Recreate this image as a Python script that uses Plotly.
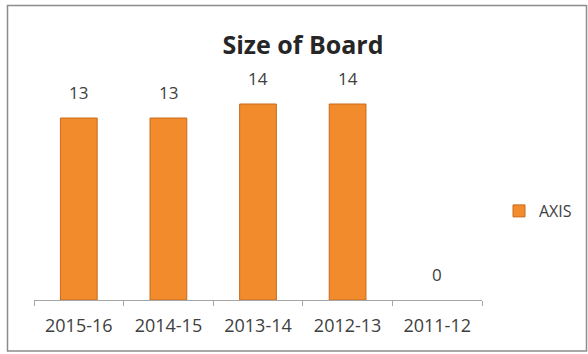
import plotly.graph_objects as go

categories = ["2015-16", "2014-15", "2013-14", "2012-13", "2011-12"]
values = [13, 13, 14, 14, 0]
series_name = "AXIS"
title_text = "Size of Board"

W, H = 588, 354
L, R, T, B = 34, 106, 76, 54
plot_w = W - L - R
plot_h = H - T - B

fig = go.Figure()
fig.add_trace(go.Bar(
    x=categories, y=values, name=series_name,
    marker=dict(color="#F28B2C",
                line=dict(color="#C86A1C", width=[1 if v > 0 else 0 for v in values])),
    width=0.41,
))

for c, v in zip(categories, values):
    fig.add_annotation(x=c, y=v, text=str(v), showarrow=False,
                       yanchor="bottom", yshift=12,
                       font=dict(family="Open Sans", size=17, color="#404040"))


def px_to_paper_x(px):
    return (px - L) / plot_w


def px_to_paper_y(py):
    return (H - B - py) / plot_h


# outer chart border
fig.add_shape(type="rect", xref="paper", yref="paper",
              x0=px_to_paper_x(7.5), x1=px_to_paper_x(586.5),
              y0=px_to_paper_y(351), y1=px_to_paper_y(5.5),
              line=dict(color="#8C8C8C", width=1.5), fillcolor="rgba(0,0,0,0)", layer="below")

fig.update_layout(
    width=W, height=H,
    margin=dict(l=L, r=R, t=T, b=B, autoexpand=False),
    paper_bgcolor="white", plot_bgcolor="white",
    title=dict(text="<b>" + title_text + "</b>", x=303 / W, xanchor="center",
               y=1 - 45 / H, yanchor="middle",
               font=dict(family="Open Sans", size=25, color="#262626")),
    showlegend=True,
    legend=dict(x=px_to_paper_x(499), y=px_to_paper_y(211), xanchor="left", yanchor="middle",
                font=dict(family="Open Sans", size=16, color="#404040"),
                itemwidth=30, bgcolor="rgba(0,0,0,0)"),
    xaxis=dict(type="category", showline=True, linecolor="#A6A6A6", linewidth=1,
               ticks="outside", ticklen=5, tickcolor="#A6A6A6", tickson="boundaries",
               tickfont=dict(family="Open Sans", size=18, color="#404040"),
               ticklabelstandoff=9,
               showgrid=False, zeroline=False),
    yaxis=dict(range=[0, 16], visible=False, showgrid=False, zeroline=False),
)

fig.write_html("out.html")
